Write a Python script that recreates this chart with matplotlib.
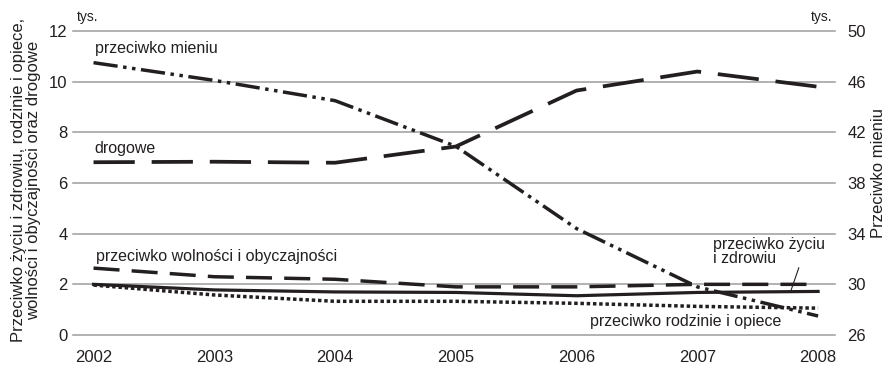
import matplotlib
matplotlib.use("Agg")
import matplotlib.pyplot as plt

plt.rcParams['font.family'] = ['Liberation Sans', 'DejaVu Sans']

years = [2002, 2003, 2004, 2005, 2006, 2007, 2008]
mieniu = [47.5, 46.1, 44.5, 40.9, 34.4, 29.8, 27.5]          # right axis
drogowe = [6.82, 6.84, 6.8, 7.44, 9.65, 10.4, 9.8]
wolnosci = [2.64, 2.3, 2.2, 1.9, 1.9, 2.0, 2.0]
zyciu = [2.0, 1.78, 1.7, 1.68, 1.55, 1.68, 1.72]
rodzinie = [1.97, 1.58, 1.33, 1.33, 1.25, 1.13, 1.06]

left_ticks = [0, 2, 4, 6, 8, 10, 12]
right_ticks = [26, 30, 34, 38, 42, 46, 50]

C = '#231f20'
GRID = '#9d9d9d'

fig = plt.figure(figsize=(8.88, 3.65), dpi=100)
ax = fig.add_axes([73/888, 30/365, (835-73)/888, (335-31)/365])
ax2 = ax.twinx()

ax.set_xlim(2001.83, 2008.14)
ax.set_ylim(0, 12)
ax2.set_ylim(26, 50)
ax.set_yticks(left_ticks)
ax2.set_yticks(right_ticks)
ax.set_xticks(years)

for a in (ax, ax2):
    for s in a.spines.values():
        s.set_visible(False)
    a.tick_params(length=0, labelsize=12, labelcolor=C)
ax.tick_params(axis='y', pad=4)
ax2.tick_params(axis='y', pad=9)
ax.tick_params(axis='x', pad=11)

for t in left_ticks:
    ax.axhline(t, color=GRID, lw=1.1, zorder=0, clip_on=False)

ax.plot(years, drogowe, color=C, lw=2.7, dashes=(11, 4.5), dash_capstyle='butt', zorder=3)
ax.plot(years, wolnosci, color=C, lw=2.5, dashes=(7.5, 3.5), dash_capstyle='butt', zorder=3)
ax.plot(years, zyciu, color=C, lw=2.3, zorder=3)
ax.plot(years, rodzinie, color=C, lw=2.5, dashes=(1.0, 0.8), dash_capstyle='butt', zorder=3)
ax2.plot(years, mieniu, color=C, lw=2.5, dashes=(7, 1.6, 1, 1.6, 1, 1.6), dash_capstyle='butt', zorder=3)

fs = 11.5
ax.text(2002.01, 11.3, 'przeciwko mieniu', fontsize=fs, color=C, va='center', ha='left')
ax.text(2002.01, 7.35, 'drogowe', fontsize=fs, color=C, va='center', ha='left')
ax.text(2002.02, 3.08, 'przeciwko wolności i obyczajności', fontsize=fs, color=C, va='center', ha='left')
ax.text(2007.13, 3.3, 'przeciwko życiu\ni zdrowiu', fontsize=fs, color=C, va='center', ha='left', linespacing=0.95)
ax.text(2006.11, 0.52, 'przeciwko rodzinie i opiece', fontsize=fs, color=C, va='center', ha='left')
ax.plot([2007.84, 2007.77], [2.65, 1.68], color=C, lw=0.8, zorder=4)

fig.text(77/888, 1 - 17/365, 'tys.', fontsize=10, color=C, ha='left', va='center')
fig.text(832/888, 1 - 17/365, 'tys.', fontsize=10, color=C, ha='right', va='center')

fig.text(26/888, 1 - 180/365,
         'Przeciwko życiu i zdrowiu, rodzinie i opiece,\nwolności i obyczajności oraz drogowe',
         rotation=90, fontsize=12, color=C, ha='center', va='center', linespacing=1.0,
         multialignment='center')
fig.text(871/888, 1 - 173/365, 'Przeciwko mieniu', rotation=90, fontsize=12, color=C,
         ha='left', va='center')

fig.savefig('out.png', dpi=100)
